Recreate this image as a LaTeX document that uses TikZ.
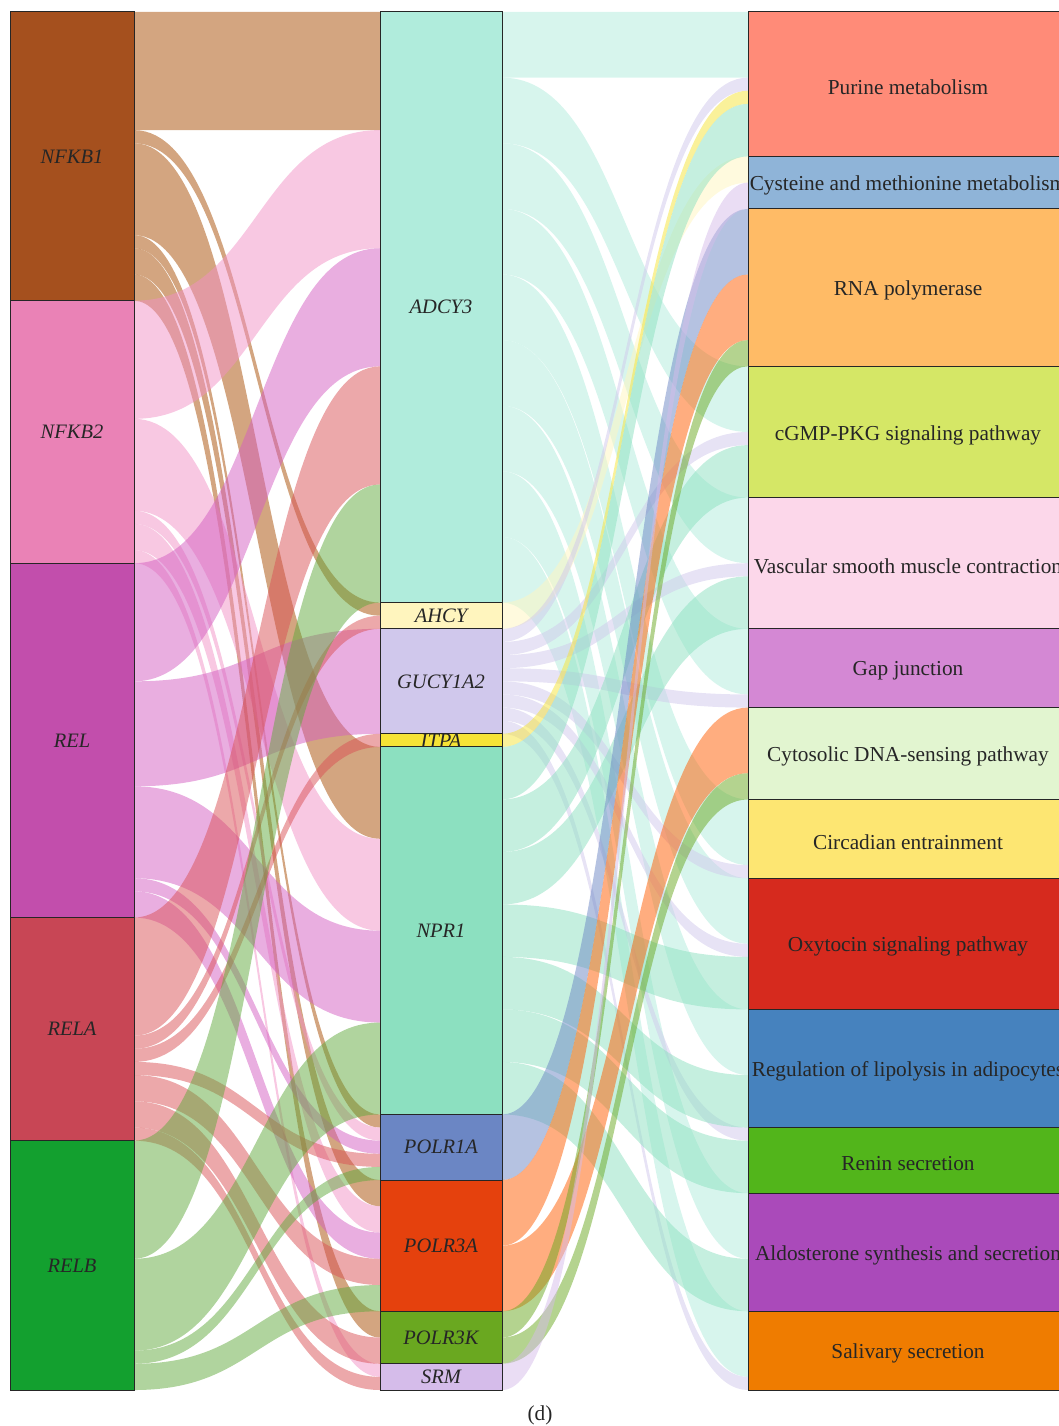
\documentclass[tikz,border=0pt]{standalone}
\usepackage{fontspec}
\setmainfont{Liberation Serif}
\usetikzlibrary{positioning,calc}
\pgfdeclarelayer{ribbons}
\pgfsetlayers{ribbons,main}
% transcription factors
\definecolor{cNFKBa}{HTML}{A5501E}
\definecolor{cNFKBb}{HTML}{EA82B6}
\definecolor{cREL}{HTML}{C24EAC}
\definecolor{cRELA}{HTML}{C84655}
\definecolor{cRELB}{HTML}{13A02F}
\definecolor{fNFKBa}{HTML}{A74B01}
\definecolor{fNFKBb}{HTML}{F191C5}
\definecolor{fREL}{HTML}{D35DC1}
\definecolor{fRELA}{HTML}{D95155}
\definecolor{fRELB}{HTML}{61A93D}
% genes
\definecolor{cADCY}{HTML}{B0ECDC}
\definecolor{cAHCY}{HTML}{FFF5BE}
\definecolor{cGUCY}{HTML}{D0C8EC}
\definecolor{cITPA}{HTML}{F6E336}
\definecolor{cNPR}{HTML}{8CE0C0}
\definecolor{cPOLRa}{HTML}{6B86C4}
\definecolor{cPOLRc}{HTML}{E5410D}
\definecolor{fPOLRc}{HTML}{FF5C00}
\definecolor{cPOLRk}{HTML}{6AA820}
\definecolor{cSRM}{HTML}{D5BCEA}
% pathways
\definecolor{cPurine}{HTML}{FF8B78}
\definecolor{cCys}{HTML}{8FB4D8}
\definecolor{cRNA}{HTML}{FFBB66}
\definecolor{cCGMP}{HTML}{D5E766}
\definecolor{cVasc}{HTML}{FCD7EA}
\definecolor{cGap}{HTML}{D488D4}
\definecolor{cCyto}{HTML}{E2F5D0}
\definecolor{cCirc}{HTML}{FDE672}
\definecolor{cOxy}{HTML}{D62A1E}
\definecolor{cLipo}{HTML}{4682BE}
\definecolor{cRenin}{HTML}{52B51B}
\definecolor{cAldo}{HTML}{AA4ABA}
\definecolor{cSaliv}{HTML}{EF7C00}

\newcommand{\uu}{13.124pt}
% ribbon: source, offset, target, offset, width (in units), colour
\newcommand{\flow}[6]{%
  \path ([yshift=-#2*\uu]#1.north east) coordinate (s1)
    ([yshift=-(#2+#5)*\uu]#1.north east) coordinate (s2)
    ([yshift=-#4*\uu]#3.north west) coordinate (t1)
    ([yshift=-(#4+#5)*\uu]#3.north west) coordinate (t2)
    ($(s1)!.5!(t1)$) coordinate (m);
  \fill[ribbon,#6] (s1) .. controls (m |- s1) and (m |- t1) .. (t1)
    -- (t2) .. controls (m |- t2) and (m |- s2) .. (s2) -- cycle;}

\begin{document}
\begin{tikzpicture}[
    x=1pt,y=-1pt,
    tfbox/.style={rectangle,draw=black!85,line width=1pt,inner sep=0pt,outer sep=0pt,minimum width=124pt},
    genebox/.style={tfbox,minimum width=122pt},
    pwbox/.style={tfbox,minimum width=320pt},
    itl/.style={font=\fontsize{20.5}{24}\selectfont\itshape,text=black!85},
    upl/.style={font=\fontsize{21.3}{25}\selectfont,text=black!85},
    pwl/.style={upl,yshift=-3pt},
    ribbon/.style={fill opacity=0.5}
  ]
  \clip (0,0) rectangle (1059,1426);

  % Transcription factors
  \node[tfbox,fill=cNFKBa,minimum height=22*\uu,anchor=north west,label={[itl]center:NFKB1}] (NFKB1) at (10,12) {};
  \node[tfbox,fill=cNFKBb,minimum height=20*\uu,below=0pt of NFKB1,label={[itl]center:NFKB2}] (NFKB2) {};
  \node[tfbox,fill=cREL,minimum height=27*\uu,below=0pt of NFKB2,label={[itl]center:REL}] (REL) {};
  \node[tfbox,fill=cRELA,minimum height=17*\uu,below=0pt of REL,label={[itl]center:RELA}] (RELA) {};
  \node[tfbox,fill=cRELB,minimum height=19*\uu,below=0pt of RELA,label={[itl]center:RELB}] (RELB) {};

  % Genes
  \node[genebox,fill=cADCY,minimum height=45*\uu,anchor=north west,label={[itl]center:ADCY3}] (ADCY3) at (380,12) {};
  \node[genebox,fill=cAHCY,minimum height=2*\uu,below=0pt of ADCY3,label={[itl]center:AHCY}] (AHCY) {};
  \node[genebox,fill=cGUCY,minimum height=8*\uu,below=0pt of AHCY,label={[itl]center:GUCY1A2}] (GUCY) {};
  \node[genebox,fill=cITPA,minimum height=1*\uu,below=0pt of GUCY,label={[itl]center:ITPA}] (ITPA) {};
  \node[genebox,fill=cNPR,minimum height=28*\uu,below=0pt of ITPA,label={[itl]center:NPR1}] (NPR1) {};
  \node[genebox,fill=cPOLRa,minimum height=5*\uu,below=0pt of NPR1,label={[itl]center:POLR1A}] (POLRa) {};
  \node[genebox,fill=cPOLRc,minimum height=10*\uu,below=0pt of POLRa,label={[itl]center:POLR3A}] (POLRc) {};
  \node[genebox,fill=cPOLRk,minimum height=4*\uu,below=0pt of POLRc,label={[itl]center:POLR3K}] (POLRk) {};
  \node[genebox,fill=cSRM,minimum height=2*\uu,below=0pt of POLRk,label={[itl]center:SRM}] (SRM) {};

  % Pathways
  \node[pwbox,fill=cPurine,minimum height=11*\uu,anchor=north west,label={[pwl]center:Purine metabolism}] (purine) at (748,12) {};
  \node[pwbox,fill=cCys,minimum height=4*\uu,below=0pt of purine,label={[pwl]center:Cysteine and methionine metabolism}] (cysteine) {};
  \node[pwbox,fill=cRNA,minimum height=12*\uu,below=0pt of cysteine,label={[pwl]center:RNA polymerase}] (rnapol) {};
  \node[pwbox,fill=cCGMP,minimum height=10*\uu,below=0pt of rnapol,label={[pwl]center:cGMP-PKG signaling pathway}] (cgmp) {};
  \node[pwbox,fill=cVasc,minimum height=10*\uu,below=0pt of cgmp,label={[pwl]center:Vascular smooth muscle contraction}] (vascular) {};
  \node[pwbox,fill=cGap,minimum height=6*\uu,below=0pt of vascular,label={[pwl]center:Gap junction}] (gapj) {};
  \node[pwbox,fill=cCyto,minimum height=7*\uu,below=0pt of gapj,label={[pwl]center:Cytosolic DNA-sensing pathway}] (cytosolic) {};
  \node[pwbox,fill=cCirc,minimum height=6*\uu,below=0pt of cytosolic,label={[pwl]center:Circadian entrainment}] (circadian) {};
  \node[pwbox,fill=cOxy,minimum height=10*\uu,below=0pt of circadian,label={[pwl]center:Oxytocin signaling pathway}] (oxytocin) {};
  \node[pwbox,fill=cLipo,minimum height=9*\uu,below=0pt of oxytocin,label={[pwl]center:Regulation of lipolysis in adipocytes}] (lipolysis) {};
  \node[pwbox,fill=cRenin,minimum height=5*\uu,below=0pt of lipolysis,label={[pwl]center:Renin secretion}] (renin) {};
  \node[pwbox,fill=cAldo,minimum height=9*\uu,below=0pt of renin,label={[pwl]center:Aldosterone synthesis and secretion}] (aldo) {};
  \node[pwbox,fill=cSaliv,minimum height=6*\uu,below=0pt of aldo,label={[pwl]center:Salivary secretion}] (salivary) {};

  \node[upl] (caption) at (540,1415) {(d)};

  \begin{pgfonlayer}{ribbons}
    % factor -> gene
    \flow{NFKB1}{0}{ADCY3}{0}{9}{fNFKBa}
    \flow{NFKB1}{9}{AHCY}{0}{1}{fNFKBa}
    \flow{NFKB1}{10}{NPR1}{0}{7}{fNFKBa}
    \flow{NFKB1}{17}{POLRa}{0}{1}{fNFKBa}
    \flow{NFKB1}{18}{POLRc}{0}{2}{fNFKBa}
    \flow{NFKB1}{20}{POLRk}{0}{2}{fNFKBa}
    \flow{NFKB2}{0}{ADCY3}{9}{9}{fNFKBb}
    \flow{NFKB2}{9}{NPR1}{7}{7}{fNFKBb}
    \flow{NFKB2}{16}{POLRa}{1}{1}{fNFKBb}
    \flow{NFKB2}{17}{POLRc}{2}{2}{fNFKBb}
    \flow{NFKB2}{19}{SRM}{0}{1}{fNFKBb}
    \flow{REL}{0}{ADCY3}{18}{9}{fREL}
    \flow{REL}{9}{GUCY}{0}{8}{fREL}
    \flow{REL}{17}{NPR1}{14}{7}{fREL}
    \flow{REL}{24}{POLRa}{2}{1}{fREL}
    \flow{REL}{25}{POLRc}{4}{2}{fREL}
    \flow{RELA}{0}{ADCY3}{27}{9}{fRELA}
    \flow{RELA}{9}{AHCY}{1}{1}{fRELA}
    \flow{RELA}{10}{ITPA}{0}{1}{fRELA}
    \flow{RELA}{11}{POLRa}{3}{1}{fRELA}
    \flow{RELA}{12}{POLRc}{6}{2}{fRELA}
    \flow{RELA}{14}{POLRk}{2}{2}{fRELA}
    \flow{RELA}{16}{SRM}{1}{1}{fRELA}
    \flow{RELB}{0}{ADCY3}{36}{9}{fRELB}
    \flow{RELB}{9}{NPR1}{21}{7}{fRELB}
    \flow{RELB}{16}{POLRa}{4}{1}{fRELB}
    \flow{RELB}{17}{POLRc}{8}{2}{fRELB}

    % gene -> pathway
    \flow{ADCY3}{0}{purine}{0}{5}{cADCY}
    \flow{ADCY3}{5}{cgmp}{0}{5}{cADCY}
    \flow{ADCY3}{10}{vascular}{0}{5}{cADCY}
    \flow{ADCY3}{15}{gapj}{0}{5}{cADCY}
    \flow{ADCY3}{20}{circadian}{0}{5}{cADCY}
    \flow{ADCY3}{25}{oxytocin}{0}{5}{cADCY}
    \flow{ADCY3}{30}{lipolysis}{0}{5}{cADCY}
    \flow{ADCY3}{35}{aldo}{0}{5}{cADCY}
    \flow{ADCY3}{40}{salivary}{0}{5}{cADCY}
    \flow{AHCY}{0}{cysteine}{0}{2}{cAHCY}
    \flow{GUCY}{0}{purine}{5}{1}{cGUCY}
    \flow{GUCY}{1}{cgmp}{5}{1}{cGUCY}
    \flow{GUCY}{2}{vascular}{5}{1}{cGUCY}
    \flow{GUCY}{3}{gapj}{5}{1}{cGUCY}
    \flow{GUCY}{4}{circadian}{5}{1}{cGUCY}
    \flow{GUCY}{5}{oxytocin}{5}{1}{cGUCY}
    \flow{GUCY}{6}{renin}{0}{1}{cGUCY}
    \flow{GUCY}{7}{salivary}{5}{1}{cGUCY}
    \flow{ITPA}{0}{purine}{6}{1}{cITPA}
    \flow{NPR1}{0}{purine}{7}{4}{cNPR}
    \flow{NPR1}{4}{cgmp}{6}{4}{cNPR}
    \flow{NPR1}{8}{vascular}{6}{4}{cNPR}
    \flow{NPR1}{12}{oxytocin}{6}{4}{cNPR}
    \flow{NPR1}{16}{lipolysis}{5}{4}{cNPR}
    \flow{NPR1}{20}{renin}{1}{4}{cNPR}
    \flow{NPR1}{24}{aldo}{5}{4}{cNPR}
    \flow{POLRa}{0}{rnapol}{0}{5}{cPOLRa}
    \flow{POLRc}{0}{rnapol}{5}{5}{fPOLRc}
    \flow{POLRc}{5}{cytosolic}{0}{5}{fPOLRc}
    \flow{POLRk}{0}{rnapol}{10}{2}{cPOLRk}
    \flow{POLRk}{2}{cytosolic}{5}{2}{cPOLRk}
    \flow{SRM}{0}{cysteine}{2}{2}{cSRM}
  \end{pgfonlayer}
\end{tikzpicture}
\end{document}
